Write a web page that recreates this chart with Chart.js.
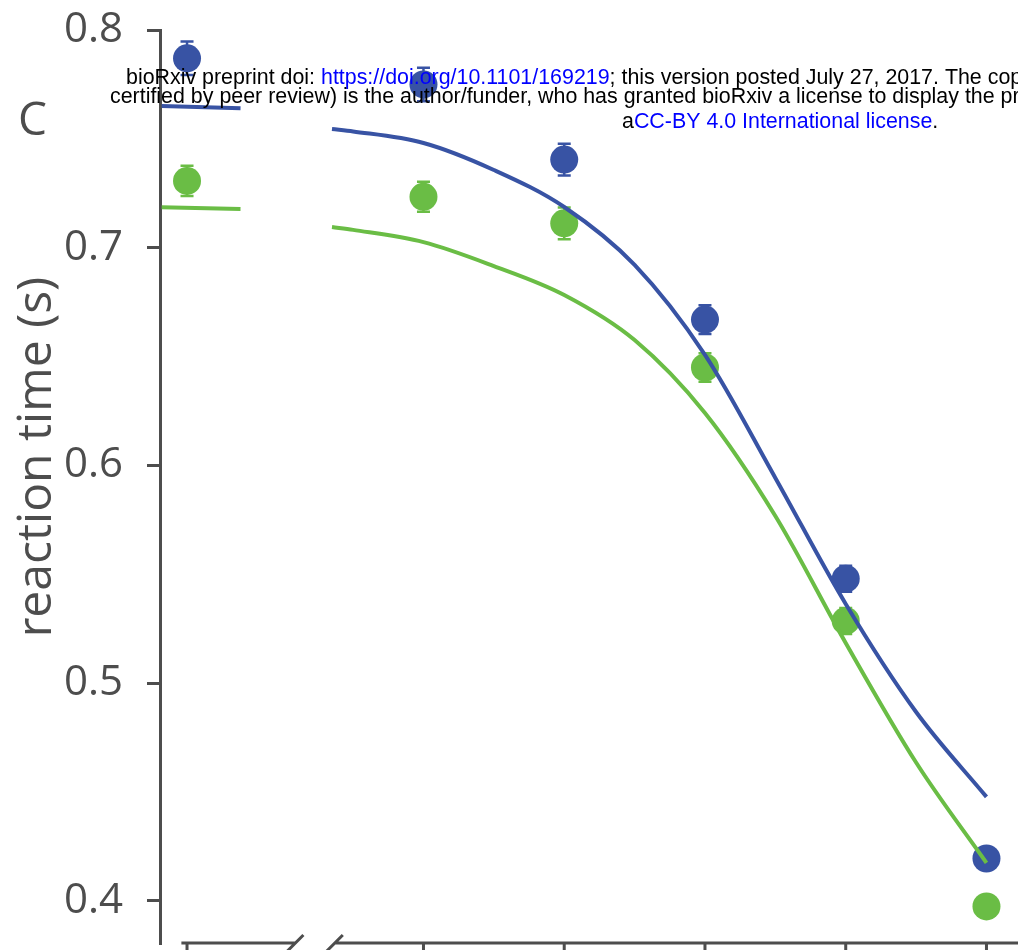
<!DOCTYPE html>
<html>
<head>
<meta charset="utf-8">
<script src="https://cdn.jsdelivr.net/npm/chart.js@4/dist/chart.umd.min.js"></script>
<style>
  body { margin: 0; background: #fff; }
</style>
</head>
<body>
<canvas id="rtChart" width="1018" height="950"></canvas>
<script>
// condition positions on x (the first one sits left of the axis break)
const levels = [-1.68, 0, 1, 2, 3, 4];

// mean reaction times and their error bars
const rtBlue = [0.787, 0.775, 0.7405, 0.667, 0.548, 0.4195];
const errBlue = [0.0077, 0.0077, 0.0073, 0.0066, 0.006, 0.005];
const rtGreen = [0.7307, 0.7234, 0.7112, 0.645, 0.5286, 0.3975];
const errGreen = [0.0069, 0.0069, 0.0073, 0.0066, 0.006, 0.005];

// fitted curves
const fitX = [-0.65, -0.5, 0, 0.5, 1, 1.5, 2, 2.5, 3, 3.5, 4.0];
const fitBlue = [0.7545, 0.7534, 0.7481, 0.7357, 0.7187, 0.6921, 0.6508, 0.5943, 0.5364, 0.4868, 0.4478];
const fitGreen = [0.7095, 0.7082, 0.7026, 0.6916, 0.6783, 0.6576, 0.6241, 0.5768, 0.5185, 0.4636, 0.4175];

// fit level for the leftmost condition
const baseX = [-1.86, -1.3];
const baseBlue = [0.7651, 0.7641];
const baseGreen = [0.7186, 0.7178];

const yTicks = [0.4, 0.5, 0.6, 0.7, 0.8];
const xAxisStart = -1.72;
const breakAt = [-0.91, -0.63];

const BLUE = '#3853a4';
const GREEN = '#6abd45';
const GREY = '#4d4d4d';

const pts = (xs, ys) => xs.map((x, i) => ({ x: x, y: ys[i] }));

const extras = {
  id: 'extras',
  beforeDatasetsDraw(chart) {
    const ctx = chart.ctx;
    const xs = chart.scales.x, ys = chart.scales.y;
    ctx.save();
    ctx.lineWidth = 2.5;
    [[rtBlue, errBlue, BLUE], [rtGreen, errGreen, GREEN]].forEach(([vals, errs, col]) => {
      ctx.strokeStyle = col;
      vals.forEach((v, i) => {
        const px = xs.getPixelForValue(levels[i]);
        const top = ys.getPixelForValue(v + errs[i]);
        const bot = ys.getPixelForValue(v - errs[i]);
        ctx.beginPath();
        ctx.moveTo(px, top); ctx.lineTo(px, bot);
        ctx.moveTo(px - 6.5, top); ctx.lineTo(px + 6.5, top);
        ctx.moveTo(px - 6.5, bot); ctx.lineTo(px + 6.5, bot);
        ctx.stroke();
      });
    });
    ctx.restore();
  },
  afterDraw(chart) {
    const ctx = chart.ctx;
    const xs = chart.scales.x;
    const area = chart.chartArea;
    const yb = area.bottom;
    ctx.save();

    // broken x axis
    ctx.strokeStyle = GREY;
    ctx.lineWidth = 3;
    const b0 = xs.getPixelForValue(breakAt[0]);
    const b1 = xs.getPixelForValue(breakAt[1]);
    ctx.beginPath();
    ctx.moveTo(xs.getPixelForValue(xAxisStart), yb); ctx.lineTo(b0, yb);
    ctx.moveTo(b1, yb); ctx.lineTo(area.right, yb);
    [b0, b1].forEach(b => { ctx.moveTo(b - 8, yb + 8); ctx.lineTo(b + 8, yb - 8); });
    levels.forEach(l => {
      const px = xs.getPixelForValue(l);
      ctx.moveTo(px, yb); ctx.lineTo(px, yb + 15);
    });
    ctx.stroke();

    // panel letter and y title
    ctx.fillStyle = GREY;
    ctx.font = '46px "Open Sans"';
    ctx.textAlign = 'left';
    ctx.textBaseline = 'alphabetic';
    ctx.fillText('C', 18, 135);

    ctx.translate(51, 457);
    ctx.rotate(-Math.PI / 2);
    ctx.textAlign = 'center';
    ctx.font = '48px "Open Sans"';
    ctx.fillText('reaction time (s)', 0, 0);
    ctx.setTransform(1, 0, 0, 1, 0, 0);

    // preprint stamp
    ctx.font = '21.4px "Liberation Sans"';
    ctx.textAlign = 'left';
    const line = (x, y, parts) => {
      parts.forEach(([txt, col]) => {
        ctx.fillStyle = col;
        ctx.fillText(txt, x, y);
        x += ctx.measureText(txt).width;
      });
    };
    line(126, 84, [['bioRxiv preprint doi: ', '#000'], ['https://doi.org/10.1101/169219', '#0000ff'],
      ['; this version posted July 27, 2017. The copyright holder for this preprint (which was not', '#000']]);
    line(110, 103, [['certified by peer review) is the author/funder, who has granted bioRxiv a license to display the preprint in perpetuity.', '#000']]);
    line(622, 128, [['a', '#000'], ['CC-BY 4.0 International license', '#0000ff'], ['.', '#000']]);
    ctx.restore();
  }
};

new Chart(document.getElementById('rtChart'), {
  type: 'scatter',
  data: {
    datasets: [
      { data: pts(fitX, fitGreen), showLine: true, borderColor: GREEN, borderWidth: 4, pointRadius: 0, cubicInterpolationMode: 'monotone', order: 0 },
      { data: pts(baseX, baseGreen), showLine: true, borderColor: GREEN, borderWidth: 4, pointRadius: 0, order: 0 },
      { data: pts(fitX, fitBlue), showLine: true, borderColor: BLUE, borderWidth: 4, pointRadius: 0, cubicInterpolationMode: 'monotone', order: 1 },
      { data: pts(baseX, baseBlue), showLine: true, borderColor: BLUE, borderWidth: 4, pointRadius: 0, order: 1 },
      { data: pts(levels, rtGreen), pointRadius: 14, pointBackgroundColor: GREEN, pointBorderWidth: 0, order: 2 },
      { data: pts(levels, rtBlue), pointRadius: 14, pointBackgroundColor: BLUE, pointBorderWidth: 0, order: 3 }
    ]
  },
  options: {
    responsive: false,
    animation: false,
    layout: { autoPadding: false, padding: { top: 30, bottom: 7, left: 0, right: 0 } },
    plugins: { legend: { display: false }, tooltip: { enabled: false } },
    scales: {
      x: { type: 'linear', display: false, min: -1.872, max: 4.224 },
      y: {
        min: 0.3807,
        max: 0.8,
        afterBuildTicks: s => { s.ticks = yTicks.map(v => ({ value: v })); },
        afterFit: s => { s.width = 160; s.paddingTop = 0; s.paddingBottom = 0; },
        border: { display: true, color: GREY, width: 3 },
        grid: { display: true, drawOnChartArea: false, drawTicks: true, tickLength: 13, color: GREY, lineWidth: 3 },
        ticks: { color: GREY, padding: 24, font: { family: 'Open Sans', size: 42 }, callback: v => v.toFixed(1) }
      }
    }
  },
  plugins: [extras]
});
</script>
</body>
</html>
